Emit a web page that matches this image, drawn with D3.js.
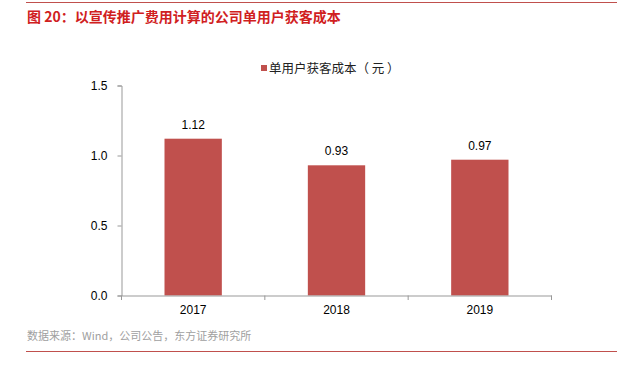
<!DOCTYPE html>
<html><head><meta charset="utf-8">
<script src="https://cdn.jsdelivr.net/npm/d3@7"></script>
<style>body{margin:0;background:#fff}svg{display:block}</style>
</head><body>
<script>
const categories = ["2017", "2018", "2019"];
const values = [1.12, 0.93, 0.97];
const yTicks = [0.0, 0.5, 1.0, 1.5];
const seriesName = "单用户获客成本（ 元 ）";
const titleText = "图 20：以宣传推广费用计算的公司单用户获客成本";
const sourceText = "数据来源：Wind，公司公告，东方证券研究所";

const W = 617, H = 367;
const svg = d3.select("body").append("svg").attr("width", W).attr("height", H);
const font = "'Liberation Sans', Arial, 'Noto Sans CJK SC', sans-serif";
const cjk = "'Noto Sans CJK SC', 'Liberation Sans', sans-serif";

svg.append("line").attr("x1", 26).attr("x2", W).attr("y1", 2.5).attr("y2", 2.5)
  .attr("stroke", "#c0504d").attr("stroke-width", 1.2);
svg.append("text").attr("x", 27).attr("y", 22).text(titleText)
  .attr("fill", "#d0201e").attr("font-size", 14).attr("font-weight", "bold").attr("font-family", cjk);

const x = d3.scaleBand().domain(categories).range([121.5, 551.5]).paddingInner(0.6).paddingOuter(0.3);
const y = d3.scaleLinear().domain([0, 1.5]).range([295.5, 85.5]);

// y axis
const yAxis = d3.axisLeft(y).tickValues(yTicks).tickFormat(d3.format(".1f")).tickSize(4).tickPadding(10);
const gy = svg.append("g").attr("transform", "translate(121.5,0)").call(yAxis);
gy.select(".domain").attr("stroke", "#999");
gy.selectAll(".tick line").attr("stroke", "#999");
gy.selectAll("text").attr("font-size", 12).attr("font-family", font).attr("fill", "#000");

// bars
svg.selectAll("rect.bar").data(values).enter().append("rect")
  .attr("x", (d, i) => x(categories[i])).attr("width", x.bandwidth())
  .attr("y", d => y(d)).attr("height", d => y(0) - y(d)).attr("fill", "#c0504d");

svg.selectAll("text.lab").data(values).enter().append("text")
  .attr("x", (d, i) => x(categories[i]) + x.bandwidth() / 2).attr("y", d => y(d) - 10)
  .attr("text-anchor", "middle").text(d => d.toFixed(2))
  .attr("font-size", 12).attr("font-family", font);

// x axis
const xAxis = d3.axisBottom(x).tickSize(0).tickPadding(10);
const gx = svg.append("g").attr("transform", "translate(0,295.5)").call(xAxis);
gx.select(".domain").attr("stroke", "#999");
gx.selectAll("text").attr("font-size", 12).attr("font-family", font).attr("fill", "#000");
const bounds = [121.5, 551.5];
const xt = d3.range(categories.length + 1).map(i => bounds[0] + (bounds[1] - bounds[0]) * i / categories.length);
svg.selectAll("line.xt").data(xt).enter().append("line")
  .attr("x1", d => d).attr("x2", d => d).attr("y1", 295.5).attr("y2", 300)
  .attr("stroke", "#999");

// legend
svg.append("rect").attr("x", 261).attr("y", 65).attr("width", 6).attr("height", 6).attr("fill", "#c0504d");
svg.append("text").attr("x", 269).attr("y", 72.5).text(seriesName)
  .attr("font-size", 12.5).attr("font-family", cjk).attr("fill", "#222");

// source
svg.append("text").attr("x", 27).attr("y", 340).text(sourceText)
  .attr("font-size", 11).attr("font-family", cjk).attr("fill", "#a0a0a0");
svg.append("line").attr("x1", 26).attr("x2", W).attr("y1", 351.5).attr("y2", 351.5)
  .attr("stroke", "#c0504d").attr("stroke-width", 1);
</script>
</body></html>
